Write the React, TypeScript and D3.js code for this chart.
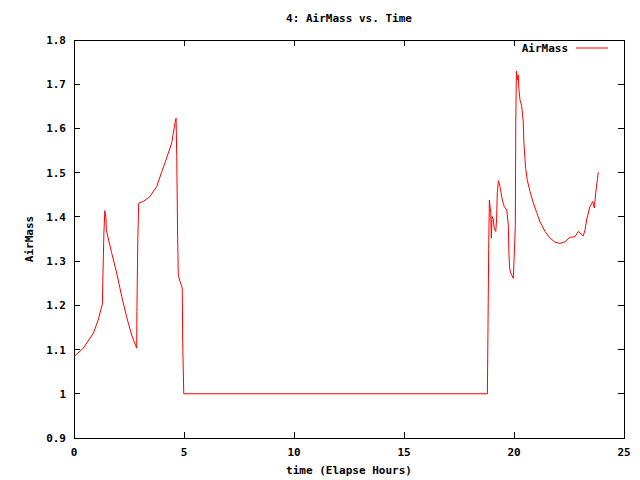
import React from 'react'
import * as d3 from 'd3'

// elapsed hours
const hours = [
  0, 0.42, 0.88, 1.1, 1.29, 1.31, 1.36, 1.4, 1.45, 1.47, 1.71, 1.94, 2.17, 2.39, 2.62, 2.82, 2.85,
  2.86, 2.9, 2.94, 3.15, 3.45, 3.76, 3.99, 4.21, 4.44, 4.59, 4.64, 4.67, 4.71, 4.74, 4.82, 4.92,
  4.94, 4.99, 10, 15, 18.79, 18.81, 18.85, 18.88, 18.94, 18.97, 19.0, 19.06, 19.1, 19.17, 19.21,
  19.24, 19.29, 19.33, 19.39, 19.47, 19.56, 19.67, 19.74, 19.77, 19.8, 19.85, 19.97, 20.06, 20.08,
  20.11, 20.15, 20.19, 20.22, 20.27, 20.35, 20.42, 20.45, 20.5, 20.53, 20.6, 20.73, 20.88, 21.03,
  21.18, 21.41, 21.64, 21.86, 22.09, 22.32, 22.55, 22.77, 22.92, 23.15, 23.23, 23.3, 23.45, 23.58,
  23.65, 23.73, 23.79, 23.83, 23.92,
]
const airMass = [
  1.084, 1.103, 1.137, 1.167, 1.203, 1.257, 1.364, 1.414, 1.398, 1.37, 1.319, 1.273, 1.22, 1.174,
  1.133, 1.107, 1.103, 1.186, 1.348, 1.431, 1.435, 1.446, 1.469, 1.502, 1.533, 1.567, 1.612, 1.623,
  1.536, 1.359, 1.269, 1.254, 1.239, 1.118, 1.0, 1.0, 1.0, 1.0, 1.11, 1.329, 1.438, 1.41, 1.352,
  1.401, 1.395, 1.374, 1.367, 1.395, 1.454, 1.482, 1.476, 1.461, 1.438, 1.423, 1.416, 1.382, 1.318,
  1.284, 1.273, 1.261, 1.378, 1.612, 1.729, 1.71, 1.721, 1.691, 1.665, 1.65, 1.616, 1.567, 1.529,
  1.51, 1.484, 1.457, 1.431, 1.41, 1.389, 1.367, 1.352, 1.343, 1.34, 1.344, 1.354, 1.355, 1.367,
  1.357, 1.371, 1.393, 1.423, 1.435, 1.42, 1.461, 1.484, 1.501,
]
const xTicks = [0, 5, 10, 15, 20, 25]
const yTicks = [0.9, 1, 1.1, 1.2, 1.3, 1.4, 1.5, 1.6, 1.7, 1.8]

const W = 640
const H = 480
const margin = { top: 40, right: 16, bottom: 42, left: 74 }
const font = '"DejaVu Sans Mono", monospace'

export default function App() {
  const iw = W - margin.left - margin.right
  const ih = H - margin.top - margin.bottom
  const x = d3.scaleLinear().domain([0, 25]).range([0, iw])
  const y = d3.scaleLinear().domain([0.9, 1.8]).range([ih, 0])
  const pts = hours.map((h, i) => [h, airMass[i]] as [number, number])
  const line = d3.line<[number, number]>().x(d => x(d[0])).y(d => y(d[1]))
  const tick = 6

  return (
    <svg width={W} height={H} style={{ position: 'absolute', left: 0, top: 0, background: '#fff' }}
      fontFamily={font} fontSize={11} fontWeight="bold">
      <text x={349} y={22} textAnchor="middle">4: AirMass vs. Time</text>
      <g transform={`translate(${margin.left},${margin.top})`}>
        <rect x={0} y={0} width={iw} height={ih} fill="none" stroke="#000" strokeWidth={1} shapeRendering="crispEdges" />
        {xTicks.map(t => (
          <g key={'x' + t} shapeRendering="crispEdges">
            <line x1={x(t)} x2={x(t)} y1={ih} y2={ih - tick} stroke="#000" />
            <line x1={x(t)} x2={x(t)} y1={0} y2={tick} stroke="#000" />
            <text x={x(t)} y={ih + 18} textAnchor="middle">{t}</text>
          </g>
        ))}
        {yTicks.map(t => (
          <g key={'y' + t} shapeRendering="crispEdges">
            <line x1={0} x2={tick} y1={y(t)} y2={y(t)} stroke="#000" />
            <line x1={iw} x2={iw - tick} y1={y(t)} y2={y(t)} stroke="#000" />
            <text x={-8} y={y(t) + 4} textAnchor="end">{d3.format('~g')(t)}</text>
          </g>
        ))}
        <path d={line(pts) ?? ''} fill="none" stroke="#ff0000" strokeWidth={1} />
        <text x={494} y={12} textAnchor="end">AirMass</text>
        <line x1={502} x2={534} y1={8} y2={8} stroke="#ff0000" />
      </g>
      <text x={349} y={474} textAnchor="middle">time (Elapse Hours)</text>
      <text transform={`translate(33,239) rotate(-90)`} textAnchor="middle">AirMass</text>
    </svg>
  )
}
